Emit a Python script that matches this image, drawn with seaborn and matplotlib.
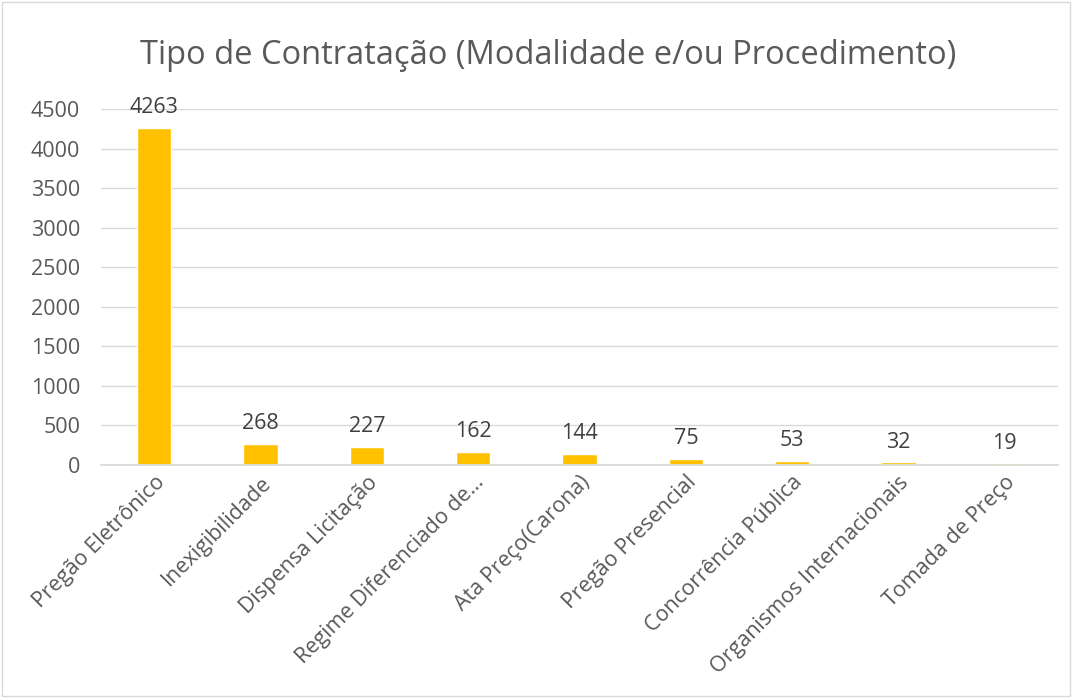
import matplotlib
matplotlib.use("Agg")
import matplotlib.pyplot as plt
import seaborn as sns
import pandas as pd
from matplotlib.patches import Rectangle

categories = ["Pregão Eletrônico", "Inexigibilidade", "Dispensa Licitação",
              "Regime Diferenciado de…", "Ata Preço(Carona)", "Pregão Presencial",
              "Concorrência Pública", "Organismos Internacionais", "Tomada de Preço"]
values = [4263, 268, 227, 162, 144, 75, 53, 32, 19]
yticks = [0, 500, 1000, 1500, 2000, 2500, 3000, 3500, 4000, 4500]
title = "Tipo de Contratação (Modalidade e/ou Procedimento)"

sns.set_theme(style="white")
plt.rcParams['font.family'] = ['Open Sans', 'DejaVu Sans']

df = pd.DataFrame({"cat": categories, "val": values})
fig = plt.figure(figsize=(10.73, 6.98), dpi=100)
ax = fig.add_axes([101/1073, 1-465/698, (1058-101)/1073, (465-109)/698])
sns.barplot(data=df, x="cat", y="val", color="#FFC000", saturation=1, width=0.32, ax=ax)
ax.set_ylim(0, 4500)
ax.set_yticks(yticks)
ax.yaxis.grid(True, color="#D9D9D9", linewidth=1)
ax.set_axisbelow(True)
for s in ["top", "right", "left"]:
    ax.spines[s].set_visible(False)
ax.spines["bottom"].set_color("#D9D9D9")
ax.set_xlabel("")
ax.set_ylabel("")
ax.tick_params(axis="y", labelsize=15.5, colors="#595959", length=0, pad=15)
ax.tick_params(axis="x", labelsize=15.5, colors="#595959", length=0, pad=5)
plt.setp(ax.get_xticklabels(), rotation=45, ha="right", rotation_mode="anchor")
for i, v in enumerate(values):
    ax.annotate(str(v), (i, v), xytext=(0, 7), textcoords="offset points",
                ha="center", va="bottom", fontsize=15.5, color="#404040")
fig.text(548/1073, 1-55/698, title, ha="center", va="center", fontsize=23.5, color="#595959")
fig.patches.append(Rectangle((0.002, 0.003), 0.995, 0.994, transform=fig.transFigure,
                             fill=False, edgecolor="#D9D9D9", linewidth=1))
fig.savefig("out.png", dpi=100)
